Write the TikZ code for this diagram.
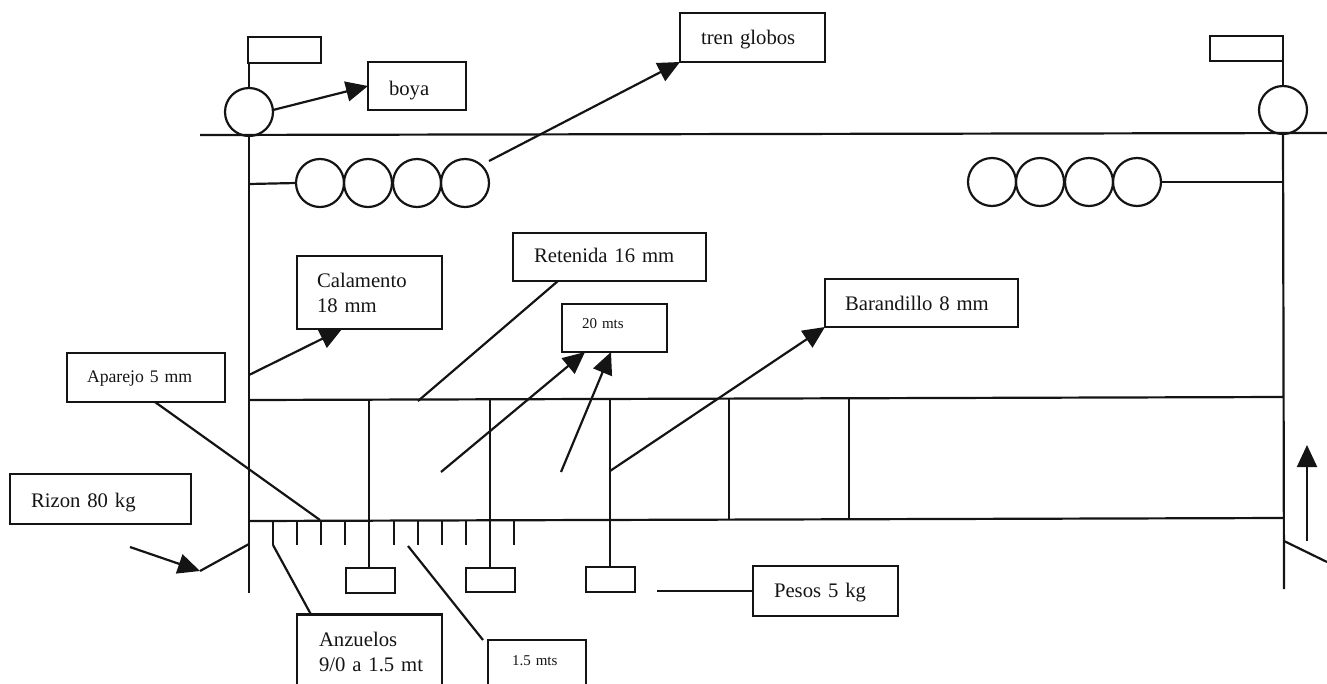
\documentclass[tikz,border=0pt]{standalone}
\usepackage{fontspec}
\setmainfont{Liberation Serif}
\usetikzlibrary{arrows.meta}
\definecolor{ink}{HTML}{141414}
\newcommand{\tx}[2]{\raisebox{#1pt}[0pt][0pt]{#2}}
\tikzset{
  lbox/.style n args={3}{draw=ink,line width=2.2pt,minimum width=#1pt,minimum height=#2pt,inner sep=0pt,outer sep=0pt,align=left,text width={(#1-2*#3)*1pt},text=ink,font=\fontsize{20.7}{25}\selectfont},
  plain box/.style 2 args={draw=ink,line width=2.2pt,minimum width=#1pt,minimum height=#2pt,inner sep=0pt,outer sep=0pt},
  ball/.style={circle,draw=ink,line width=2.2pt,minimum size=48pt,inner sep=0pt,outer sep=0pt},
  ln/.style={draw=ink,line width=2.2pt},
  arw/.style={ln,-{Triangle[length=22pt,width=20pt]}}
}
\begin{document}
\begin{tikzpicture}[x=1pt,y=-1pt]
\clip (0,0) rectangle (1327,683);
% boxes
\node[plain box={73}{26}] (flagL) at (284.5,50) {};
\node[plain box={73}{25}] (flagR) at (1246.5,48.5) {};
\node[lbox={98}{48}{21}] (boya) at (417,86) {\tx{-9}{boya}};
\node[lbox={145}{49}{21}] (tren) at (752.5,37.5) {\tx{-7}{tren globos}};
\node[lbox={145}{73}{20}] (cal) at (369.5,292.5) {Calamento\\18 mm};
\node[lbox={193}{48}{21}] (ret) at (609.5,257) {\tx{-5}{Retenida 16 mm}};
\node[lbox={105}{48}{20},font=\fontsize{15}{18}\selectfont] (m20) at (614.5,328) {\tx{-0.5}{20 mts}};
\node[lbox={193}{48}{20}] (bar) at (921.5,303) {\tx{-7}{Barandillo 8 mm}};
\node[lbox={158}{49}{20},font=\fontsize{17.7}{21}\selectfont] (apa) at (146,377.5) {\tx{-4.5}{Aparejo 5 mm}};
\node[lbox={181}{50}{21}] (riz) at (100.5,499) {\tx{-8}{Rizon 80 kg}};
\node[plain box={49}{25}] (w1) at (370.5,580.5) {};
\node[plain box={49}{24}] (w2) at (490.5,580) {};
\node[plain box={49}{25}] (w3) at (610.5,579.5) {};
\node[lbox={145}{50}{21}] (pes) at (825.5,591) {\tx{-6}{Pesos 5 kg}};
\node[lbox={145}{75}{10},text width=125pt] (anz) at (369.5,652) {\hspace*{12pt}Anzuelos\\\hspace*{12pt}9/0 a 1.5 mt};
\node[lbox={98}{50}{24},font=\fontsize{15}{18}\selectfont] (m15) at (537,665) {\tx{-0.5}{1.5 mts}};
% balls
\node[ball] (bL) at (249,112) {};
\node[ball] (bR) at (1283,110) {};
\foreach \n/\x in {1/320,2/368,3/417,4/465}{\node[ball] (fL\n) at (\x,183) {};}
\foreach \n/\x in {1/992,2/1040,3/1089,4/1137}{\node[ball] (fR\n) at (\x,182) {};}
% free ends
\coordinate (hA) at (200,135); \coordinate (hB) at (1327,133);
\coordinate (vLt) at (249,135); \coordinate (vLb) at (249,593);
\coordinate (vRt) at (1283,133); \coordinate (vRb) at (1284,589);
\coordinate (fLa) at (249,184); \coordinate (fRa) at (1283,182);
\coordinate (upL) at (249,400); \coordinate (upR) at (1283,397);
\coordinate (loL) at (249,521); \coordinate (loR) at (1283,518);
\coordinate (u1) at (369,400); \coordinate (u2) at (490,399); \coordinate (u3) at (610,399);
\coordinate (u4) at (729,398); \coordinate (l4) at (729,519);
\coordinate (u5) at (849,398); \coordinate (l5) at (849,519);
\coordinate (t0) at (273,545);
\coordinate (b1) at (273,110); \coordinate (t1) at (489,161);
\coordinate (c1) at (249,375); \coordinate (r1) at (418,401);
\coordinate (a1) at (320,520);
\coordinate (e1) at (441,472); \coordinate (e2) at (561,472); \coordinate (e3) at (610,471);
\coordinate (p1) at (657,591); \coordinate (q1) at (408,546);
\coordinate (ra) at (130,547); \coordinate (rb) at (200,571); \coordinate (rc) at (249,544);
\coordinate (sa) at (1284,541); \coordinate (sb) at (1327,562);
\coordinate (ua) at (1307,541); \coordinate (ub) at (1307,445);
% lines
\draw[ln] (hA) -- (hB);
\draw[ln] (vLt) -- (vLb);
\draw[ln] (vRt) -- (vRb);
\draw[ln] (bL.north) -- (bL.north |- flagL.south);
\draw[ln] (bR.north) -- (bR.north |- flagR.south);
\draw[ln] (fLa) -- (fL1.west);
\draw[ln] (fR4.east) -- (fRa);
\draw[ln] (upL) -- (upR);
\draw[ln] (loL) -- (loR);
\draw[ln] (u1) -- (w1.north -| u1);
\draw[ln] (u2) -- (w2.north -| u2);
\draw[ln] (u3) -- (w3.north -| u3);
\draw[ln] (u4) -- (l4);
\draw[ln] (u5) -- (l5);
\foreach \x in {273,297,321,345,394,418,442,466,514}{\draw[ln] (\x,520) -- (\x,545);}
\draw[ln] (t0) -- ([xshift=-58.5pt]anz.north);
\draw[ln] (r1) -- ([xshift=-51.5pt]ret.south);
\draw[ln] (a1) -- ([xshift=9pt]apa.south);
\draw[ln] (p1) -- (p1 -| pes.west);
\draw[ln] (q1) -- ([xshift=-54pt]m15.north);
\draw[ln] (rb) -- (rc);
\draw[ln] (sa) -- (sb);
% arrows
\draw[arw] (b1) -- (boya.west);
\draw[arw] (t1) -- (tren.south west);
\draw[arw] (c1) -- ([xshift=-27.5pt]cal.south);
\draw[arw] (e1) -- ([xshift=-29.5pt]m20.south);
\draw[arw] (e2) -- ([xshift=-3.5pt]m20.south);
\draw[arw] (e3) -- (bar.south west);
\draw[arw] (ra) -- (rb);
\draw[arw] (ua) -- (ub);
\end{tikzpicture}
\end{document}
